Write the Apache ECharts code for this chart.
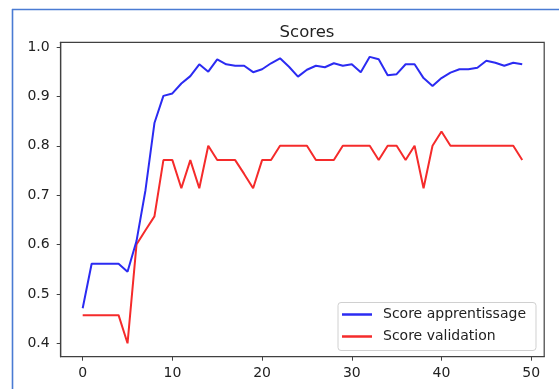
<!DOCTYPE html>
<html>
<head>
<meta charset="utf-8">
<script src="https://cdn.jsdelivr.net/npm/echarts@6/dist/echarts.min.js"></script>
<style>
html,body{margin:0;padding:0;background:#fff;}
#chart{width:559px;height:389px;}
</style>
</head>
<body>
<div id="chart"></div>
<script>
var epochs = [];
for (var i = 0; i < 50; i++) epochs.push(i);

var scoreApprentissage = [
  0.471, 0.561, 0.561, 0.561, 0.561, 0.545, 0.607, 0.710, 0.846, 0.901,
  0.906, 0.926, 0.941, 0.965, 0.950, 0.975, 0.965, 0.962, 0.962, 0.949,
  0.955, 0.967, 0.977, 0.960, 0.940, 0.954, 0.962, 0.959, 0.967, 0.962,
  0.965, 0.949, 0.980, 0.975, 0.943, 0.945, 0.965, 0.965, 0.937, 0.921,
  0.937, 0.948, 0.955, 0.955, 0.958, 0.972, 0.968, 0.962, 0.968, 0.965
];

var scoreValidation = [
  0.457, 0.457, 0.457, 0.457, 0.457, 0.400, 0.600, 0.629, 0.657, 0.771,
  0.771, 0.714, 0.771, 0.714, 0.800, 0.771, 0.771, 0.771, 0.743, 0.714,
  0.771, 0.771, 0.800, 0.800, 0.800, 0.800, 0.771, 0.771, 0.771, 0.800,
  0.800, 0.800, 0.800, 0.771, 0.800, 0.800, 0.771, 0.800, 0.714, 0.800,
  0.829, 0.800, 0.800, 0.800, 0.800, 0.800, 0.800, 0.800, 0.800, 0.771
];

var xTicks = [0, 10, 20, 30, 40, 50];
var yTicks = [0.4, 0.5, 0.6, 0.7, 0.8, 0.9, 1.0];

var seriesNames = ['Score apprentissage', 'Score validation'];
var titleText = 'Scores';

function pairs(vals) {
  return epochs.map(function (e, k) { return [e, vals[k]]; });
}

var chart = echarts.init(document.getElementById('chart'), null, {renderer: 'canvas'});
var font = 'DejaVu Sans';
chart.setOption({
  animation: false,
  backgroundColor: '#ffffff',
  title: {
    text: titleText,
    left: 302,
    top: 19,
    textAlign: 'center',
    textStyle: {fontFamily: font, fontSize: 16.5, fontWeight: 'normal', color: '#222'}
  },
  legend: {
    orient: 'vertical',
    left: 338,
    top: 302.5,
    padding: [5, 10, 7, 4],
    itemGap: 8,
    itemWidth: 30,
    itemHeight: 2.5,
    icon: 'rect',
    backgroundColor: '#ffffff',
    borderColor: '#d0d0d0',
    borderWidth: 1,
    borderRadius: 3,
    textStyle: {fontFamily: font, fontSize: 14, color: '#222', lineHeight: 14, padding: [0, 0, 0, 6]},
    data: seriesNames
  },
  grid: {
    left: 60.7,
    right: 14.8,
    top: 42.3,
    bottom: 32.3,
    show: true,
    borderColor: '#404040',
    borderWidth: 1.2,
    backgroundColor: 'transparent'
  },
  xAxis: {
    type: 'value',
    min: -2.45,
    max: 51.45,
    axisLine: {show: true, onZero: false, lineStyle: {color: '#404040', width: 1.2}},
    axisTick: {show: true, inside: false, length: 4, customValues: xTicks, lineStyle: {color: '#404040', width: 1}},
    axisLabel: {
      show: true, margin: 10, customValues: xTicks,
      fontFamily: font, fontSize: 14, color: '#222'
    },
    splitLine: {show: false}
  },
  yAxis: {
    type: 'value',
    min: 0.3729,
    max: 1.0095,
    axisLine: {show: true, onZero: false, lineStyle: {color: '#404040', width: 1.2}},
    axisTick: {show: true, inside: false, length: 4, customValues: yTicks, lineStyle: {color: '#404040', width: 1}},
    axisLabel: {
      show: true, margin: 11, customValues: yTicks,
      fontFamily: font, fontSize: 14, color: '#222',
      formatter: function (v) { return v.toFixed(1); }
    },
    splitLine: {show: false}
  },
  series: [
    {
      name: seriesNames[0],
      type: 'line',
      data: pairs(scoreApprentissage),
      showSymbol: false,
      symbol: 'none',
      color: '#2b2bf2',
      lineStyle: {width: 2, color: '#2b2bf2'},
      z: 3
    },
    {
      name: seriesNames[1],
      type: 'line',
      data: pairs(scoreValidation),
      showSymbol: false,
      symbol: 'none',
      color: '#f52b2b',
      lineStyle: {width: 2, color: '#f52b2b'},
      z: 2
    }
  ],
  graphic: [
    {type: 'line', shape: {x1: 12, y1: 9.5, x2: 559, y2: 9.5}, style: {stroke: '#4a7bd3', lineWidth: 1.6}, silent: true},
    {type: 'line', shape: {x1: 12.5, y1: 9, x2: 12.5, y2: 389}, style: {stroke: '#4a7bd3', lineWidth: 1.6}, silent: true}
  ]
});
</script>
</body>
</html>
